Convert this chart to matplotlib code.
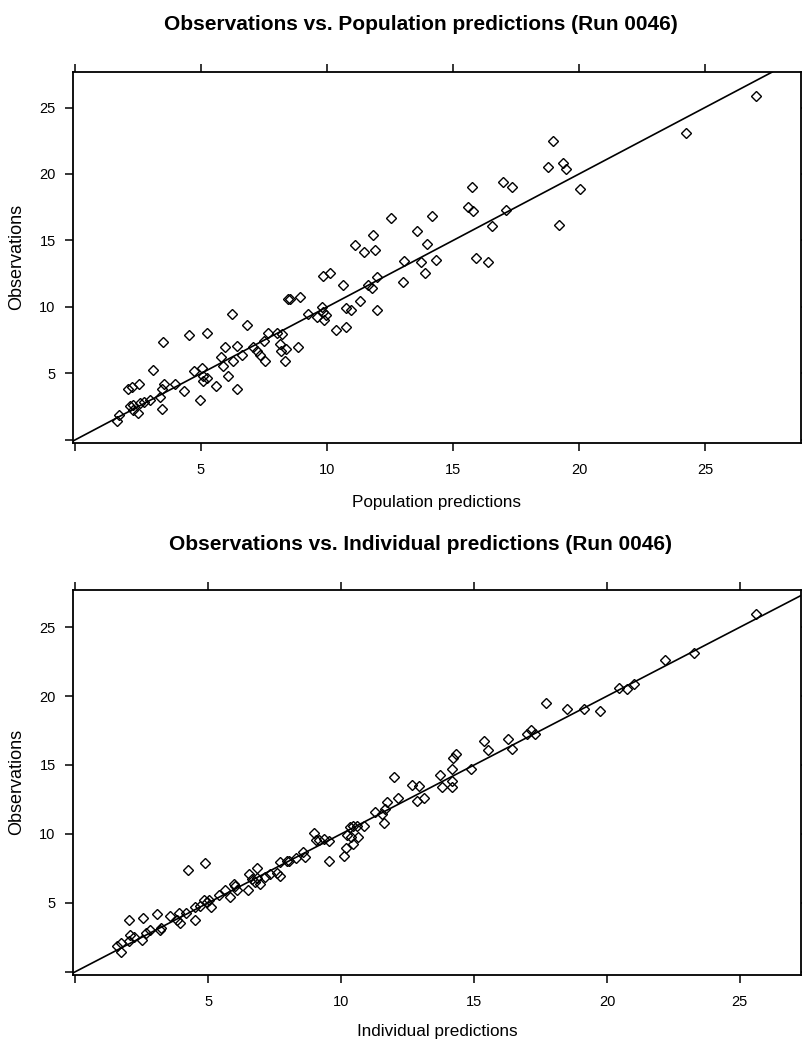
import matplotlib
matplotlib.use("Agg")
import matplotlib.pyplot as plt
import numpy as np

plt.rcParams['font.family'] = ['Liberation Sans', 'DejaVu Sans']

# ---- Top panel: population predictions vs observations ----
pred_x = [1.65, 1.76, 2.12, 2.25, 2.54, 2.18, 2.29, 2.32, 2.51, 2.58, 2.74, 2.98, 3.11, 3.37,
          3.44, 3.53, 3.45, 3.50, 3.97, 4.33, 4.52, 4.74, 4.96, 5.03, 5.07, 5.07, 5.25, 5.25,
          5.60, 5.78, 5.89, 5.95, 6.08, 6.24, 6.28, 6.42, 6.42, 6.61, 6.84, 7.05, 7.21, 7.34,
          7.53, 7.50, 7.67, 8.00, 8.13, 8.16, 8.23, 8.37, 8.35, 8.46, 8.52, 8.93, 8.86, 9.26,
          9.59, 9.79, 9.85, 9.95, 9.90, 10.36, 10.75, 10.75, 10.94, 10.62, 11.30,
          9.85, 10.12, 11.11, 11.47, 11.84, 11.92, 12.53, 11.64, 11.80, 12.00, 11.97, 13.03,
          13.07, 13.58, 13.72, 13.89, 13.98, 14.15, 14.33, 15.61, 15.78, 15.77, 15.91, 16.38,
          16.56, 16.97, 17.33, 17.09, 18.76,
          27.02, 24.23, 18.96, 19.38, 19.47, 20.04, 19.22]
obs_top = [1.44, 1.87, 3.80, 3.98, 4.20, 2.54, 2.61, 2.24, 1.99, 2.79, 2.86, 3.03, 5.27, 3.23,
           3.86, 4.18, 2.31, 7.39, 4.23, 3.66, 7.89, 5.17, 3.03, 5.40, 4.78, 4.40, 4.68, 8.04,
           4.03, 6.27, 5.55, 7.01, 4.78, 9.45, 5.95, 7.09, 3.80, 6.42, 8.66, 7.01, 6.72, 6.40,
           5.90, 7.46, 8.04, 8.04, 7.21, 6.72, 7.96, 6.84, 5.90, 10.57, 10.57, 10.75, 7.01, 9.50,
           9.25, 10.00, 9.65, 9.38, 9.00, 8.26, 8.46, 9.95, 9.75, 11.64, 10.42,
           12.31, 12.56, 14.63, 14.10, 15.42, 14.25, 16.72, 11.62, 11.44, 12.24, 9.78, 11.87,
           13.49, 15.75, 13.36, 12.56, 14.72, 16.87, 13.51, 17.54, 17.24, 19.00, 13.68, 13.36,
           16.07, 19.40, 19.03, 17.26, 20.52,
           25.85, 23.06, 22.49, 20.85, 20.40, 18.86, 16.14]

# ---- Bottom panel: individual predictions vs observations ----
ipred_x = [1.57, 1.72, 1.73, 2.03, 2.00, 2.07, 2.22, 2.51, 2.54, 2.67, 2.82, 3.07, 3.17, 3.23,
           3.55, 3.82, 3.91, 3.95, 4.17, 4.24, 4.49, 4.51, 4.67, 4.89, 4.85, 5.01, 4.95, 5.11,
           5.42, 5.64, 5.80, 5.95, 5.99, 6.08, 6.49, 6.52, 6.64, 6.77, 6.83, 6.83, 6.95, 7.14,
           7.33, 7.58, 7.71, 7.71, 7.96, 8.02, 8.31, 8.56, 8.65, 8.96, 9.06, 9.18, 9.37, 9.55,
           9.56, 10.09, 10.19, 10.21, 10.36, 10.46, 10.34, 10.46, 10.65,
           10.61, 10.86, 11.28, 11.53, 11.61, 11.65, 11.74, 11.99, 12.15, 12.66, 12.91, 12.87,
           13.12, 13.72, 13.81, 14.16, 14.16, 14.16, 14.20, 14.33, 14.88, 15.39, 15.52, 16.26,
           16.42, 16.99, 17.15, 17.28, 17.72, 18.49, 19.12, 19.72, 20.44, 20.75, 21.00, 22.17,
           23.26, 25.62]
obs_bot = [1.84, 2.08, 1.43, 3.77, 2.25, 2.63, 2.49, 2.27, 3.90, 2.81, 3.05, 4.21, 3.00, 3.17,
           4.01, 3.77, 4.26, 3.53, 4.26, 7.40, 3.77, 4.69, 4.79, 7.89, 5.22, 5.22, 5.03, 4.73,
           5.58, 5.94, 5.41, 6.36, 6.24, 5.90, 5.90, 7.09, 6.72, 6.48, 7.52, 6.80, 6.36, 6.84,
           7.09, 7.16, 6.97, 7.93, 8.00, 8.05, 8.25, 8.66, 8.32, 10.06, 9.53, 9.53, 9.65, 9.46,
           8.05, 8.43, 8.96, 9.93, 9.81, 9.25, 10.49, 10.60, 9.81,
           10.58, 10.58, 11.62, 11.43, 10.78, 11.80, 12.29, 14.13, 12.60, 13.57, 13.45, 12.36,
           12.60, 14.30, 13.40, 14.71, 13.81, 13.40, 15.50, 15.82, 14.73, 16.76, 16.10, 16.90,
           16.18, 17.27, 17.54, 17.27, 19.47, 19.08, 19.06, 18.89, 20.58, 20.51, 20.90, 22.59,
           23.12, 25.94]

tick_vals = [0, 5, 10, 15, 20, 25]
tick_labels = ['', '5', '10', '15', '20', '25']

titles = ["Observations vs. Population predictions (Run 0046)",
          "Observations vs. Individual predictions (Run 0046)"]
xlabels = ["Population predictions", "Individual predictions"]
ylabel = "Observations"

W, H = 803, 1039
fig = plt.figure(figsize=(W / 100, H / 100), dpi=100)

def make_axes(l, t, r, b):
    return fig.add_axes([l / W, 1 - b / H, (r - l) / W, (b - t) / H])

ax1 = make_axes(73, 72, 801, 443)
ax2 = make_axes(73, 590, 801, 975)

panels = [
    (ax1, pred_x, obs_top, (-0.08, 28.81), (-0.23, 27.67), 30, 507, 257, 0),
    (ax2, ipred_x, obs_bot, (-0.09, 27.3), (-0.24, 27.7), 550, 1036, 782, 1),
]

for ax, xs, ys, xl, yl, ty, xly, yly, i in panels:
    ax.set_xlim(*xl)
    ax.set_ylim(*yl)
    ax.plot(xs, ys, linestyle='none', marker='D', markersize=4.6,
            markerfacecolor='none', markeredgecolor='black', markeredgewidth=1.0)
    ax.axline((0, 0), slope=1, color='black', linewidth=1.2)
    ax.set_xticks(tick_vals)
    ax.set_xticklabels(tick_labels)
    ax.set_yticks(tick_vals)
    ax.set_yticklabels(tick_labels)
    ax.tick_params(axis='both', direction='out', length=5.5, width=1.1, labelsize=10.5,
                   top=True, right=True, labeltop=False, labelright=False)
    ax.tick_params(axis='x', pad=9)
    ax.tick_params(axis='y', pad=7)
    for sp in ax.spines.values():
        sp.set_linewidth(1.3)
    fig.text(421 / W, 1 - ty / H, titles[i], ha='center', va='baseline',
             fontsize=15, fontweight='bold')
    fig.text(437 / W, 1 - xly / H, xlabels[i], ha='center', va='baseline', fontsize=12.3)
    fig.text(17 / W, 1 - yly / H, ylabel, ha='center', va='center',
             rotation=90, fontsize=13)

fig.savefig("out.png", dpi=100, facecolor='white')
